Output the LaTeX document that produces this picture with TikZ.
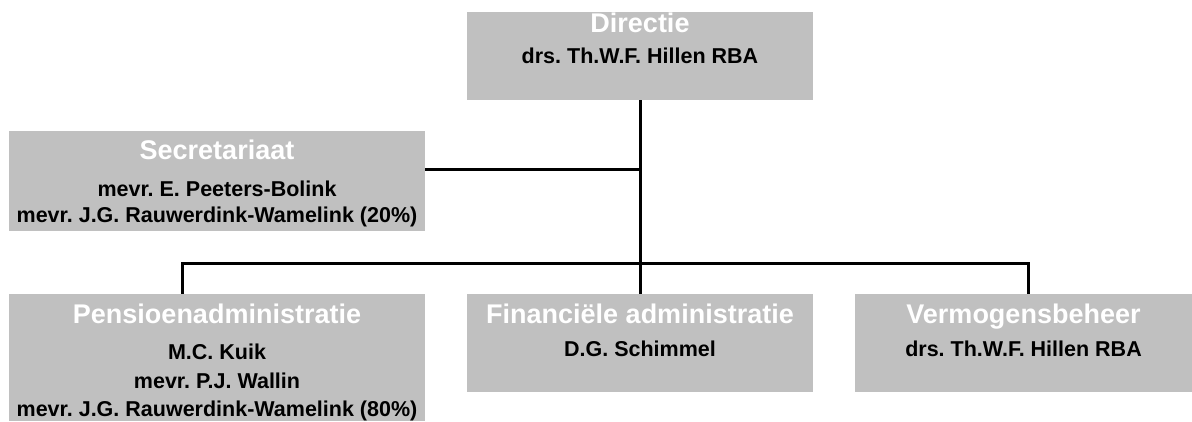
\documentclass[tikz,border=0pt]{standalone}
\usepackage{fontspec}
\setmainfont{Liberation Sans}
\frenchspacing
\begin{document}
\begin{tikzpicture}[x=1pt,y=-1pt,
  box/.style={rectangle,fill=boxgray,draw=none,inner sep=0pt},
  ttl/.style={anchor=base,inner sep=0pt,text=white,font=\bfseries\fontsize{27}{27}\selectfont},
  nm/.style={anchor=base,inner sep=0pt,text=black,font=\bfseries\fontsize{21.5}{21.5}\selectfont},
  conn/.style={line width=3pt,draw=black}]
\definecolor{boxgray}{RGB}{192,192,192}
\useasboundingbox (0,0) rectangle (1192,421);
% boxes
\node[box,minimum width=346pt,minimum height=88pt] (dir) at (640,56) {};
\node[box,minimum width=416pt,minimum height=100pt] (sec) at (217,181) {};
\node[box,minimum width=416pt,minimum height=127pt] (pen) at (217,357.5) {};
\node[box,minimum width=346pt,minimum height=98pt] (fin) at (640,343) {};
\node[box,minimum width=337pt,minimum height=98pt] (ver) at (1023.5,343) {};
% texts
\node[ttl] (dirt) at (640,32) {Directie};
\node[nm] (dirn) at (640,63) {drs. Th.W.F. Hillen RBA};
\node[ttl] (sect) at (217,159) {Secretariaat};
\node[nm] (secn1) at (217,196) {mevr. E. Peeters-Bolink};
\node[nm] (secn2) at (217,222) {mevr. J.G. Rauwerdink-Wamelink (20\%)};
\node[ttl] (pent) at (217,323) {Pensioenadministratie};
\node[nm] (penn1) at (217,359) {M.C. Kuik};
\node[nm] (penn2) at (217,388) {mevr. P.J. Wallin};
\node[nm] (penn3) at (217,416) {mevr. J.G. Rauwerdink-Wamelink (80\%)};
\node[ttl] (fint) at (640,323) {Financiële administratie};
\node[nm] (finn) at (640,356) {D.G. Schimmel};
\node[ttl] (vert) at (1023.5,323) {Vermogensbeheer};
\node[nm] (vern) at (1023.5,356) {drs. Th.W.F. Hillen RBA};
% connectors
\coordinate (pl) at (182,263);
\coordinate (pr) at (1028,263);
\draw[conn] (dir.south) -- (fin.north);
\draw[conn] ([yshift=12pt]sec.east) -- ([yshift=12pt]sec.east -| dir.south);
\draw[conn] (pl |- pen.north) -- (pl) -- (pr) -- (pr |- ver.north);
\end{tikzpicture}
\end{document}
